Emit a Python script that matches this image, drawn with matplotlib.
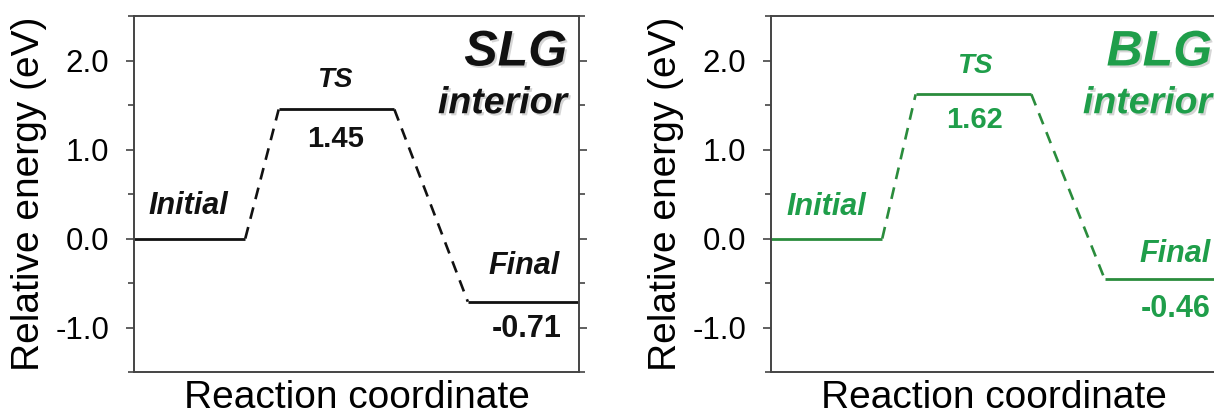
import matplotlib
matplotlib.use("Agg")
import matplotlib.pyplot as plt
import matplotlib.patheffects as pe
from matplotlib.ticker import MultipleLocator, FormatStrFormatter

plt.rcParams['font.family'] = ['Liberation Sans', 'DejaVu Sans']

# Data
states = ['Initial', 'TS', 'Final']
slg_energy = [0.0, 1.45, -0.71]
blg_energy = [0.0, 1.62, -0.46]
level_start = [0.0, 3.25, 7.5]
level_end = [2.5, 5.85, 10.0]

GREEN_LINE = '#2a8c3c'
GREEN_TEXT = '#1f9e4a'
SPINE = '#444444'

fig = plt.figure(figsize=(12.14, 4.17), dpi=100)
ax1 = fig.add_axes([0.1104, 0.1079, 0.3666, 0.8537])
ax2 = fig.add_axes([0.6351, 0.1079, 0.3666, 0.8537])


def draw_profile(ax, energy, line_color, text_color, name, pos):
    # horizontal levels
    for i in range(len(energy)):
        ax.plot([level_start[i], level_end[i]], [energy[i], energy[i]],
                color=line_color, lw=2.0, solid_capstyle='butt')
    # dashed connectors
    for i in range(len(energy) - 1):
        ax.plot([level_end[i], level_start[i + 1]], [energy[i], energy[i + 1]],
                color=line_color, lw=1.9, ls=(0, (4.5, 3.2)))

    # labels
    ax.text(pos['Initial'][0], pos['Initial'][1], 'Initial', ha='center', va='center',
            fontsize=22, fontweight='bold', fontstyle='italic', color=text_color)
    ax.text(pos['TS'][0], pos['TS'][1], 'TS', ha='center', va='center',
            fontsize=20, fontweight='bold', fontstyle='italic', color=text_color)
    ax.text(pos['TSval'][0], pos['TSval'][1], '%.2f' % energy[1], ha='center', va='center',
            fontsize=21, fontweight='bold', color=text_color)
    ax.text(pos['Final'][0], pos['Final'][1], 'Final', ha='right', va='center',
            fontsize=22, fontweight='bold', fontstyle='italic', color=text_color)
    ax.text(pos['Fval'][0], pos['Fval'][1], '%.2f' % energy[2], ha='right', va='center',
            fontsize=22, fontweight='bold', color=text_color)

    shadow = [pe.withSimplePatchShadow(offset=(1.5, -1.5), shadow_rgbFace='#888888', alpha=0.35)]
    ax.text(pos['name'][0], pos['name'][1], name, ha='right', va='center',
            fontsize=36, fontweight='bold', fontstyle='italic', color=text_color,
            path_effects=shadow)
    ax.text(pos['interior'][0], pos['interior'][1], 'interior', ha='right', va='center',
            fontsize=27, fontweight='bold', fontstyle='italic', color=text_color,
            path_effects=shadow)

    # axes styling
    ax.set_xlim(0, 10)
    ax.set_ylim(-1.5, 2.5)
    ax.set_xticks([])
    ax.yaxis.set_major_locator(MultipleLocator(1.0))
    ax.yaxis.set_minor_locator(MultipleLocator(0.5))
    ax.yaxis.set_major_formatter(FormatStrFormatter('%.1f'))
    ax.tick_params(axis='y', which='major', direction='out', length=6, width=1.2,
                   color=SPINE, labelsize=22.5, pad=12, right=True, labelright=False)
    ax.tick_params(axis='y', which='minor', direction='out', length=4.5, width=1.2,
                   color=SPINE, right=True)
    for s in ax.spines.values():
        s.set_color(SPINE)
        s.set_linewidth(1.4)
    ax.set_ylabel('Relative energy (eV)', fontsize=28, labelpad=6)
    ax.set_xlabel('Reaction coordinate', fontsize=28, labelpad=6)


# Panel 1: SLG
draw_profile(ax1, slg_energy, '#111111', '#111111', 'SLG', {
    'Initial': (1.22, 0.36), 'TS': (4.52, 1.78), 'TSval': (4.52, 1.12),
    'Final': (9.57, -0.31), 'Fval': (9.6, -1.02),
    'name': (9.73, 2.09), 'interior': (9.73, 1.52)})

# Panel 2: BLG
draw_profile(ax2, blg_energy, GREEN_LINE, GREEN_TEXT, 'BLG', {
    'Initial': (1.24, 0.35), 'TS': (4.58, 1.94), 'TSval': (4.58, 1.33),
    'Final': (9.87, -0.17), 'Fval': (9.87, -0.79),
    'name': (9.91, 2.09), 'interior': (9.91, 1.52)})

plt.savefig('out.png', dpi=100)
plt.close()
